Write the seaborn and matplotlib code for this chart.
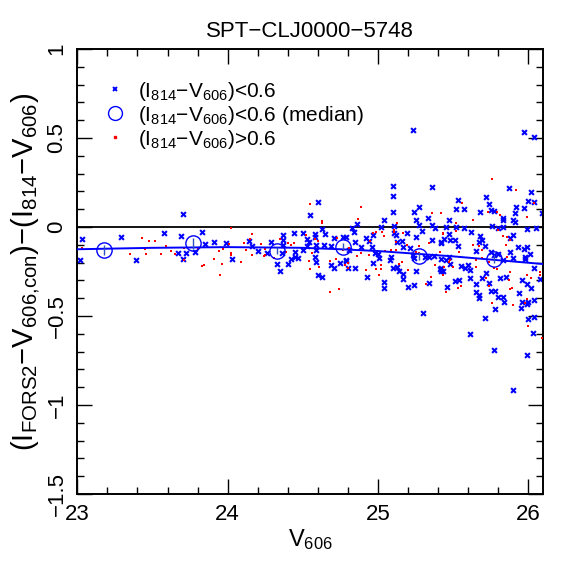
import numpy as np
import matplotlib
matplotlib.use("Agg")
import matplotlib.pyplot as plt
import seaborn as sns
from matplotlib.lines import Line2D
from matplotlib.ticker import MultipleLocator

# blue crosses: (I814-V606) < 0.6
blue_v = [23.03, 23.02, 23.29, 23.39, 23.58, 23.70, 23.69, 23.67, 23.72, 23.70, 23.83, 23.85, 23.78,
          23.91, 23.99, 24.03, 24.60, 24.55, 24.63, 24.14, 24.16, 24.20, 24.26, 24.29, 24.37, 24.37,
          24.44, 24.37, 24.36, 24.45, 24.42, 24.45, 24.47, 24.33, 24.40, 24.35, 24.50, 24.53, 24.54,
          24.58, 24.58, 24.65, 24.53, 24.50, 24.59, 24.59, 24.64, 24.69, 24.71, 24.77, 24.58, 24.59,
          24.69, 24.71, 24.75, 24.79, 24.60, 24.63, 25.10, 25.10, 25.36, 25.27, 25.10, 25.24, 25.33,
          25.04, 25.25, 24.86, 25.11, 25.27, 25.36, 25.38, 24.83, 24.84, 25.02, 25.29, 25.11, 24.97,
          25.25, 24.92, 24.94, 24.85, 25.12, 25.13, 25.16, 25.19, 25.36, 25.42, 24.89, 24.81, 24.96,
          24.98, 25.00, 25.01, 24.97, 25.17, 25.21, 25.23, 25.24, 25.31, 25.34, 25.37, 25.09, 25.08,
          24.79, 24.80, 24.85, 25.10, 25.13, 25.14, 25.17, 25.25, 25.17, 24.93, 25.04, 25.04, 25.20,
          25.24, 25.34, 25.41, 25.43, 25.30, 24.79, 25.23, 25.97, 26.04,
          25.87, 26.02, 25.72, 25.53, 25.74, 26.00, 26.04, 25.52, 25.57, 25.75, 25.77, 25.92, 25.97,
          25.68, 25.91, 26.09, 25.83, 25.83, 25.90, 25.91, 25.47, 25.76, 25.80, 25.83, 25.45, 25.52,
          25.57, 25.99, 26.05, 25.62, 25.90, 25.88, 25.47, 25.44, 25.42, 25.48, 25.51, 25.53, 25.68,
          25.69, 25.67, 25.65, 25.71, 25.75, 25.77, 25.80, 25.83, 25.88, 25.93, 25.97, 25.99, 26.01,
          25.98, 25.98, 25.90, 25.47, 25.45, 25.42, 25.42, 25.48, 25.55, 25.58, 25.61, 25.60, 25.72,
          25.69, 25.74, 25.61, 25.51, 25.54, 25.46, 25.85, 25.81, 25.65, 25.65, 25.67, 25.67, 25.75,
          25.78, 25.80, 25.83, 25.84, 25.78, 25.94, 25.96, 25.95, 25.99, 26.00, 26.04, 25.96, 26.02,
          25.99, 26.04, 26.08, 26.00, 26.04, 26.03, 25.71, 25.61, 25.77, 25.99, 25.90, 25.42]
blue_c = [-0.070, -0.185, -0.054, -0.185, -0.036, 0.073, -0.050, -0.144, -0.144, -0.180, -0.028, -0.095,
          -0.140, -0.084, -0.088, -0.180, 0.139, 0.067, -0.010, -0.077, -0.107, -0.135, -0.144, -0.084,
          -0.045, -0.073, -0.036, -0.103, -0.148, -0.140, -0.178, -0.167, -0.176, -0.208, -0.208, -0.245,
          -0.032, -0.069, -0.082, -0.039, -0.054, -0.039, -0.107, -0.129, -0.103, -0.129, -0.103, -0.107,
          -0.064, -0.058, -0.167, -0.195, -0.213, -0.229, -0.200, -0.189, -0.270, -0.283, 0.230, 0.176,
          0.226, 0.110, 0.086, 0.083, 0.052, 0.039, 0.039, 0.015, 0.006, 0.011, 0.011, -0.004, -0.007,
          -0.026, -0.002, -0.022, -0.032, -0.045, -0.054, -0.064, -0.079, -0.082, -0.045, -0.082, -0.079,
          -0.036, -0.073, -0.088, -0.114, -0.129, -0.110, -0.144, -0.153, -0.176, -0.204, -0.110, -0.120,
          -0.157, -0.176, -0.167, -0.170, -0.163, -0.170, -0.185, -0.185, -0.229, -0.229, -0.229, -0.223,
          -0.247, -0.264, -0.247, -0.294, -0.279, -0.307, -0.341, -0.335, -0.326, -0.313, -0.234, -0.245,
          -0.481, -0.054, 0.545, 0.532, 0.504,
          0.221, 0.195, 0.170, 0.152, 0.129, 0.148, 0.142, 0.101, 0.101, 0.096, 0.092, 0.114, 0.105,
          0.083, 0.077, 0.080, 0.049, 0.040, 0.039, 0.030, 0.039, 0.006, -0.007, -0.002, 0.002, 0.002,
          -0.004, -0.011, -0.004, -0.026, -0.045, -0.064, -0.039, -0.069, -0.082, -0.073, -0.073, -0.105,
          -0.050, -0.073, -0.086, -0.133, -0.107, -0.139, -0.157, -0.152, -0.185, -0.139, -0.114, -0.125,
          -0.110, -0.152, -0.167, -0.180, -0.172, -0.167, -0.185, -0.180, -0.232, -0.210, -0.219, -0.232,
          -0.241, -0.215, -0.260, -0.288, -0.316, -0.288, -0.302, -0.298, -0.335, -0.279, -0.288, -0.320,
          -0.363, -0.382, -0.400, -0.360, -0.360, -0.391, -0.395, -0.420, -0.461, -0.369, -0.420, -0.457,
          -0.434, -0.420, -0.410, -0.298, -0.345, -0.322, -0.232, -0.294, -0.519, -0.504, -0.594, -0.510,
          -0.601, -0.691, -0.719, -0.916, -0.245]

# red dots: (I814-V606) > 0.6
red_v = [23.03, 23.35, 23.43, 23.48, 23.52, 23.45, 23.46, 23.56, 23.59, 23.62, 23.65, 23.71, 23.71,
         23.80, 23.83, 23.84, 23.91, 23.94, 23.96, 23.97, 23.95, 24.01, 24.02, 24.02, 24.02,
         24.55, 24.63, 24.63, 24.16, 24.15, 24.11, 24.12, 24.09, 24.16, 24.22, 24.25, 24.25, 24.24,
         24.31, 24.35, 24.40, 24.44, 24.42, 24.39, 24.52, 24.58, 24.60, 24.56, 24.54, 24.55, 24.61,
         24.68, 24.72, 24.73, 24.74, 24.68, 24.78, 24.77,
         24.89, 24.87, 25.13, 25.11, 25.11, 24.97, 24.99, 25.03, 25.17, 25.04, 25.12, 24.95, 24.81,
         24.89, 24.86, 24.94, 25.05, 25.09, 25.12, 25.19, 25.16, 25.14, 25.20, 25.25, 25.27, 24.80,
         24.80, 24.92, 24.99, 25.02, 25.02, 25.01, 25.27, 25.34, 25.36, 25.42, 25.43, 25.41, 25.35,
         25.32, 25.38,
         25.76, 25.92, 25.56, 26.04, 25.73, 25.79, 25.81, 25.42, 25.63, 25.99, 25.52, 25.52, 25.80,
         25.83, 25.86, 25.88, 25.43, 25.63, 25.67, 25.69, 25.54, 25.85, 25.86, 25.88, 25.89, 25.65,
         25.65, 25.69, 25.74, 25.77, 25.79, 25.48, 25.47, 25.44, 25.50, 25.43, 25.55, 25.53, 25.45,
         25.72, 25.74, 25.88, 25.87, 25.99, 26.02, 26.08, 26.08, 25.99, 25.98, 25.90, 25.76, 26.00,
         26.09]
red_c = [-0.120, -0.150, -0.064, -0.077, -0.077, -0.124, -0.153, -0.152, -0.107, -0.137, -0.153, -0.120,
         -0.185, -0.125, -0.219, -0.215, -0.180, -0.135, -0.210, -0.125, -0.270, -0.097, -0.148, -0.160,
         -0.007,
         0.129, 0.036, 0.020, -0.041, -0.069, -0.092, -0.129, -0.195, -0.159, -0.095, -0.125, -0.159,
         -0.165, -0.176, -0.066, -0.088, -0.088, -0.103, -0.140, -0.045, -0.069, -0.077, -0.148, -0.191,
         -0.238, -0.226, -0.189, -0.178, -0.060, -0.350, -0.365, -0.213, -0.129,
         0.114, 0.047, 0.021, -0.017, -0.030, -0.036, -0.028, -0.026, -0.032, -0.050, -0.082, -0.079,
         -0.116, -0.148, -0.163, -0.157, -0.135, -0.129, -0.129, -0.103, -0.195, -0.210, -0.241, -0.139,
         -0.148, -0.204, -0.230, -0.241, -0.238, -0.213, -0.234, -0.270, -0.107, -0.088, 0.080, 0.077,
         -0.036, -0.139, -0.279, -0.322, -0.213,
         0.268, 0.208, 0.133, 0.133, 0.086, 0.086, 0.067, 0.077, 0.039, 0.058, 0.021, -0.020, -0.017,
         -0.050, -0.054, -0.073, -0.039, -0.101, -0.107, -0.129, -0.139, -0.101, -0.170, -0.251, -0.341,
         -0.226, -0.185, -0.176, -0.195, -0.232, -0.238, -0.185, -0.195, -0.226, -0.226, -0.270, -0.331,
         -0.344, -0.363, -0.288, -0.331, -0.350, -0.300, -0.270, -0.288, -0.251, -0.270, -0.406, -0.429,
         -0.438, -0.429, -0.554, -0.625]

# binned medians of the blue sample
med_v = [23.18, 23.77, 24.33, 24.77, 25.27, 25.77]
med_c = [-0.129, -0.092, -0.133, -0.110, -0.163, -0.180]
med_err = [0.03, 0.03, 0.02, 0.02, 0.02, 0.02]

# fitted curve
fit_v = [23.0, 23.5, 24.0, 24.5, 24.75, 25.0, 25.25, 25.5, 25.75, 26.1]
fit_c = [-0.125, -0.117, -0.113, -0.117, -0.125, -0.135, -0.150, -0.165, -0.183, -0.208]

sns.set_theme(style="ticks")
plt.rcParams['font.family'] = ['Liberation Sans', 'DejaVu Sans']
plt.rcParams['mathtext.default'] = 'regular'
plt.rcParams['text.color'] = 'black'
plt.rcParams['axes.labelcolor'] = 'black'
plt.rcParams['xtick.color'] = 'black'
plt.rcParams['ytick.color'] = 'black'

fig = plt.figure(figsize=(5.74, 5.74), dpi=100)
ax = fig.add_axes([0.1347, 0.1394, 0.8118, 0.7752])

ax.axhline(0, color='black', lw=1.3, zorder=1)
sns.scatterplot(x=blue_v, y=blue_c, marker='x', s=12, color='blue', linewidth=1.5, ax=ax, zorder=2)
sns.scatterplot(x=red_v, y=red_c, marker='s', s=4.5, color='red', linewidth=0, ax=ax, zorder=3)
sns.lineplot(x=fit_v, y=fit_c, color='blue', lw=1.4, ax=ax, zorder=4)
ax.errorbar(med_v, med_c, yerr=med_err, fmt='o', ms=11, mfc='none', mec='blue', mew=1.0,
            ecolor='#3050c0', elinewidth=1.0, zorder=5)

ax.set_xlim(23, 26.1)
ax.set_ylim(-1.5, 1)
ax.xaxis.set_major_locator(MultipleLocator(1))
ax.xaxis.set_minor_locator(MultipleLocator(0.2))
ax.yaxis.set_major_locator(MultipleLocator(0.5))
ax.yaxis.set_minor_locator(MultipleLocator(0.1))
ax.tick_params(which='both', direction='in', top=True, right=True, width=1.0, colors='black')
ax.tick_params(which='major', length=11, labelsize=16, pad=7)
ax.tick_params(which='minor', length=5)
for sp in ax.spines.values():
    sp.set_linewidth(1.4)
    sp.set_color('black')

ax.set_xticks([23, 24, 25, 26])
ax.set_xticklabels(['23', '24', '25', '26'])
ax.set_yticks([-1.5, -1, -0.5, 0, 0.5, 1])
ax.set_yticklabels(['\u22121.5', '\u22121', '\u22120.5', '0', '0.5', '1'], rotation=90, va='center')

ax.set_title('SPT\u2212CLJ0000\u22125748', fontsize=16, pad=9)
ax.set_xlabel(r'$V_{606}$', fontsize=17, labelpad=2)
ax.set_ylabel(r'$(I_{FORS2}$' + '\u2212' + r'$V_{606{,}con})$' + '\u2212' + r'$(I_{814}$' + '\u2212' + r'$V_{606})$',
              fontsize=21, labelpad=3)

handles = [
    Line2D([], [], ls='none', marker='x', ms=3.5, mew=1.4, color='blue'),
    Line2D([], [], ls='none', marker='o', ms=10, mfc='none', mec='blue', mew=1.0),
    Line2D([], [], ls='none', marker='s', ms=2, color='red'),
]
col = r'$(I_{814}$' + '\u2212' + r'$V_{606})$'
labels = [col + '<0.6', col + '<0.6 (median)', col + '>0.6']
ax.legend(handles, labels, loc='upper left', bbox_to_anchor=(0.04, 0.95), frameon=False,
          fontsize=15, handlelength=1.0, handletextpad=0.6, labelspacing=0.05, borderaxespad=0)

fig.savefig('out.png', dpi=100)
